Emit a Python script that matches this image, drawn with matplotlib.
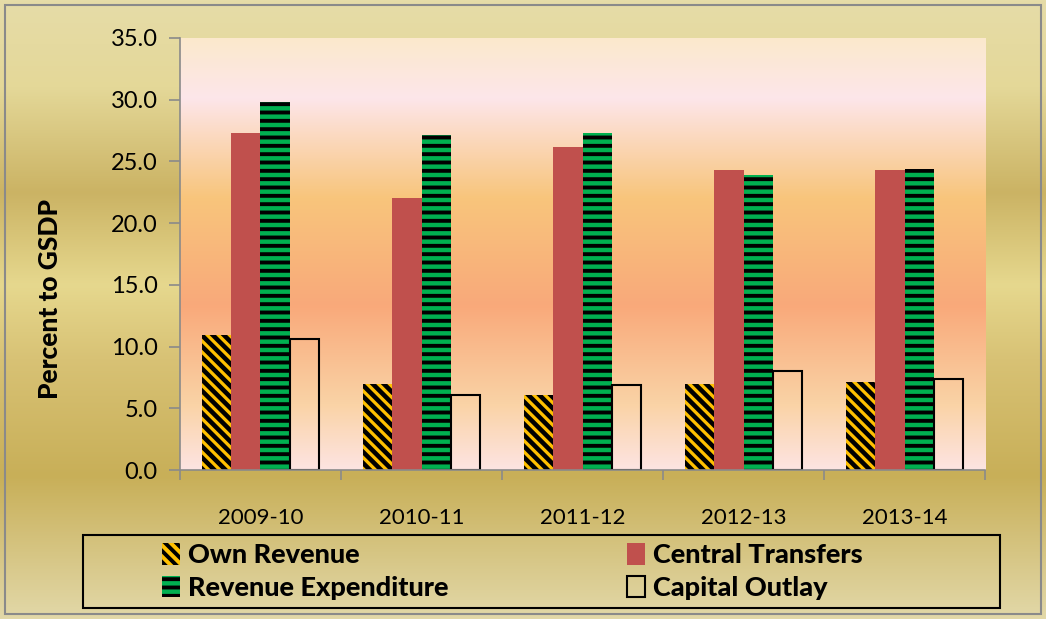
import numpy as np
import matplotlib.pyplot as plt
from matplotlib.colors import LinearSegmentedColormap
from matplotlib.patches import Rectangle

plt.rcParams['font.family'] = ['Lato', 'DejaVu Sans']

# ------------------------------ dane ------------------------------

years = ["2009-10", "2010-11", "2011-12", "2012-13", "2013-14"]
own_revenue = [10.9, 7.0, 6.1, 7.0, 7.1]
central_transfers = [27.3, 22.0, 26.2, 24.3, 24.3]
revenue_expenditure = [29.8, 27.1, 27.3, 23.9, 24.4]
capital_outlay = [10.6, 6.1, 6.9, 8.0, 7.4]

# ------------------------------ wykres ------------------------------

fig = plt.figure(figsize=(10.46, 6.19), dpi=100)

# tlo calej figury - zloty gradient
bg = fig.add_axes([0, 0, 1, 1], zorder=-10)
bg_cmap = LinearSegmentedColormap.from_list("gold", [
    (0.0, "#e6dca8"), (0.14, "#e4d898"), (0.31, "#cbb364"),
    (0.46, "#e6d88e"), (0.58, "#d8c275"), (0.77, "#c8af58"),
    (1.0, "#e2d8a8")
])
bg.imshow(np.linspace(0, 1, 256).reshape(-1, 1), cmap=bg_cmap, aspect="auto",
          extent=[0, 1, 0, 1])
bg.set_axis_off()
fig.patches.append(Rectangle((0.005, 0.008), 0.99, 0.984, transform=fig.transFigure,
                             fill=False, edgecolor="#8a8a8a", linewidth=1.5))

ax = fig.add_axes([0.172, 0.2407, 0.77, 0.698])

# tlo obszaru wykresu
plot_cmap = LinearSegmentedColormap.from_list("plot", [
    (0.0, "#fbe9cc"), (0.14, "#fde6ea"), (0.37, "#f8c57c"),
    (0.62, "#f9a97a"), (0.85, "#fad3a6"), (1.0, "#fde4e2")
])
ax.imshow(np.linspace(0, 1, 256).reshape(-1, 1), cmap=plot_cmap, aspect="auto",
          extent=[-0.5, len(years) - 0.5, 0, 35], zorder=0)

x = np.arange(len(years))
w = 0.182

plt.rcParams['hatch.linewidth'] = 3.3
b1 = ax.bar(x - 1.5 * w, own_revenue, w, color="#ffc000", edgecolor="black",
            linewidth=0, hatch="\\\\\\", label="Own Revenue", zorder=2)
b2 = ax.bar(x - 0.5 * w, central_transfers, w, color="#c0504d", linewidth=0,
            label="Central Transfers", zorder=2)
plt.rcParams['hatch.linewidth'] = 2.8
b3 = ax.bar(x + 0.5 * w, revenue_expenditure, w, color="#00b050", edgecolor="black",
            linewidth=0, hatch="--", label="Revenue Expenditure", zorder=2)
b4 = ax.bar(x + 1.5 * w, capital_outlay, w, facecolor="none", edgecolor="black",
            linewidth=1.5, label="Capital Outlay", zorder=2)

ax.set_xlim(-0.5, len(years) - 0.5)
ax.set_ylim(0, 35)
ax.set_yticks(np.arange(0, 36, 5))
ax.set_yticklabels([f"{v:.1f}" for v in np.arange(0, 36, 5)], fontsize=17)
ax.set_xticks(x)
ax.set_xticklabels(years, fontsize=16)
ax.set_xticks(np.arange(-0.5, len(years), 1), minor=True)
ax.tick_params(axis="x", which="major", length=0, pad=27)
ax.tick_params(axis="x", which="minor", length=7, color="#8a8a8a", width=1.2)
ax.tick_params(axis="y", length=8, color="#8a8a8a", width=1.2, pad=8)

for side in ["top", "right"]:
    ax.spines[side].set_visible(False)
ax.spines["left"].set_color("#8a8a8a")
ax.spines["bottom"].set_color("#8a8a8a")
ax.spines["left"].set_linewidth(1.2)
ax.spines["bottom"].set_linewidth(1.2)

ax.set_ylabel("Percent to GSDP", fontsize=19, fontweight="black",
              va="center", ha="center")
ax.yaxis.set_label_coords(-0.161, 0.396)

# ramka legendy
fig.patches.append(Rectangle((83 / 1046, 11 / 619), 917 / 1046, 73 / 619,
                             transform=fig.transFigure, fill=False,
                             edgecolor="black", linewidth=1.5))

# kolejnosc wierszami jak w oryginale
handles = [b1, b3, b2, b4]
labels = ["Own Revenue", "Revenue Expenditure", "Central Transfers", "Capital Outlay"]
fig.legend(handles, labels, loc="center left", bbox_to_anchor=(162 / 1046, 47.5 / 619),
           ncol=2, frameon=False, prop={"size": 19.5, "weight": "black"},
           handlelength=0.65, handleheight=0.85, handletextpad=0.3,
           borderpad=0.0, borderaxespad=0.0, labelspacing=0.3, columnspacing=6.6)

fig.savefig("out.png", dpi=100)
